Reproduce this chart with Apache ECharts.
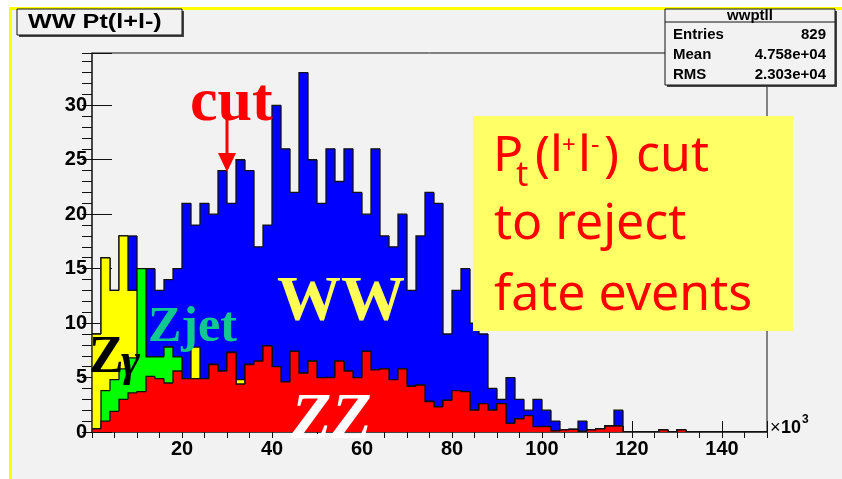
<!DOCTYPE html>
<html>
<head>
<meta charset="utf-8">
<script src="https://cdn.jsdelivr.net/npm/echarts@6/dist/echarts.min.js"></script>
<style>
html, body { margin: 0; padding: 0; background: #fff; }
#chart { width: 842px; height: 479px; }
</style>
</head>
<body>
<div id="chart"></div>
<script>
// Pt(l+l-) of the lepton pair, in units of 10^3, 75 bins of width 2 from 0 to 150.
const binWidth = 2;

// Per-process contents, drawn as a stack: ZZ at the bottom, then Zjet, Zgamma and WW.
const zz = [
  0.3, 1.0, 1.9, 3.0, 3.6, 3.7, 5.1, 4.9, 4.5, 5.6,
  4.9, 4.9, 4.9, 6.2, 5.6, 7.3, 4.4, 6.2, 6.5, 7.9,
  6.0, 4.6, 7.4, 5.4, 6.5, 5.0, 5.0, 6.5, 5.6, 5.0,
  7.4, 5.7, 5.8, 4.8, 5.8, 4.2, 4.3, 2.8, 2.3, 2.9,
  3.8, 3.7, 2.0, 2.6, 2.0, 2.6, 0.8, 1.2, 1.5, 0.5,
  0.5, 0.1, 0.2, 0.25, 0.05, 0.2, 0.3, 0.55, 0.55, 0,
  0, 0, 0, 0.2, 0, 0.2, 0, 0, 0, 0,
  0, 0, 0, 0, 0
];
const zjet = [
  0, 2.8, 2.9, 2.8, 3.2, 11.3, 1.8, 2.0, 3.3, 1.3,
  0, 0, 0, 0, 0, 0, 0, 0, 0, 0,
  0, 0, 0, 0, 0, 0, 0, 0, 0, 0,
  0, 0, 0, 0, 0, 0, 0, 0, 0, 0,
  0, 0, 0, 0, 0, 0, 0, 0, 0, 0,
  0, 0, 0, 0, 0, 0, 0, 0, 0, 0,
  0, 0, 0, 0, 0, 0, 0, 0, 0, 0,
  0, 0, 0, 0, 0
];
const zgamma = [
  8.7, 12.2, 8.2, 12.2, 6.2, 0, 0, 0, 0, 0,
  0, 2.9, 0, 0, 0, 0, 0.4, 0, 0, 0,
  0, 0, 0, 0, 0, 0, 0, 0, 0, 0,
  0, 0, 0, 0, 0, 0, 0, 0, 0, 0,
  0, 0, 0, 0, 0, 0, 0, 0, 0, 0,
  0, 0, 0, 0, 0, 0, 0, 0, 0, 0,
  0, 0, 0, 0, 0, 0, 0, 0, 0, 0,
  0, 0, 0, 0, 0
];
const ww = [
  0, 0, 0, 0, 5.0, 0, 8.1, 6.1, 6.2, 8.1,
  16.1, 11.2, 16.1, 13.8, 18.4, 13.7, 20.2, 17.8, 10.5, 11.1,
  24.0, 21.4, 14.6, 27.6, 18.5, 16.0, 21.0, 16.5, 20.4, 17.0,
  12.6, 20.3, 12.2, 12.2, 14.2, 8.8, 13.7, 19.2, 18.7, 6.1,
  9.2, 11.3, 8.0, 6.4, 2.0, 0.4, 4.2, 1.8, 0.5, 2.5,
  1.5, 0.9, 0, 0, 0.95, 0, 0, 0, 1.45, 0,
  0, 0, 0, 0, 0, 0, 0, 0, 0, 0,
  0, 0, 0, 0, 0
];

const xTickLabels = [20, 40, 60, 80, 100, 120, 140];
const yTickLabels = [0, 5, 10, 15, 20, 25, 30];

const statsTitle = 'wwptll';
const statsRows = [['Entries', '829'], ['Mean', '4.758e+04'], ['RMS', '2.303e+04']];

// cumulative tops of the stack
function addArrays(a, b) { return a.map((v, i) => v + b[i]); }
const topZZ = zz.slice();
const topZjet = addArrays(topZZ, zjet);
const topZgamma = addArrays(topZjet, zgamma);
const topWW = addArrays(topZgamma, ww);

// one filled step histogram with a black outline
function histSeries(name, tops, color) {
  const n = tops.length;
  const data = tops.map((v, i) => [i * binWidth, (i + 1) * binWidth, v, i ? tops[i - 1] : 0, i === n - 1 ? 1 : 0]);
  return {
    type: 'custom',
    name: name,
    data: data,
    clip: true,
    encode: { x: [0, 1], y: 2 },
    silent: true,
    renderItem: function (params, api) {
      const lo = api.value(0), hi = api.value(1), v = api.value(2), prev = api.value(3), last = api.value(4);
      const base = api.coord([lo, 0]);
      const topHi = api.coord([hi, v]);
      const pts = [api.coord([lo, prev]), api.coord([lo, v]), topHi];
      if (last) pts.push(api.coord([hi, 0]));
      return {
        type: 'group',
        children: [
          { type: 'rect', shape: { x: base[0], y: topHi[1], width: topHi[0] - base[0], height: base[1] - topHi[1] },
            style: { fill: color } },
          { type: 'polyline', shape: { points: pts }, style: { stroke: '#111', lineWidth: 1.3, fill: null } }
        ]
      };
    }
  };
}

const labelFont = 'Liberation Sans';
const chart = echarts.init(document.getElementById('chart'), null, { renderer: 'canvas' });

const txt = (x, y, text, font, fill, extra) => ({
  type: 'text', z: 100, style: Object.assign({ x: x, y: y, text: text, font: font, fill: fill, verticalAlign: 'middle' }, extra || {})
});

chart.setOption({
  animation: false,
  backgroundColor: '#f2f2f2',
  grid: { left: 92, right: 75, top: 53, bottom: 47, show: true, borderColor: '#111', borderWidth: 1, backgroundColor: 'transparent' },
  xAxis: [
    {
      type: 'value', min: 0, max: 150, interval: 20,
      axisLine: { show: true, lineStyle: { color: '#333', width: 1.5 } },
      axisTick: { show: true, inside: true, length: 11, lineStyle: { color: '#111' } },
      axisLabel: { margin: 7, color: '#000', fontFamily: labelFont, fontWeight: 'bold', fontSize: 20,
        formatter: v => (xTickLabels.indexOf(v) >= 0 ? String(v) : '') },
      splitLine: { show: false }
    },
    {
      type: 'value', min: 0, max: 150, interval: 5,
      axisLine: { show: false },
      axisTick: { show: true, inside: true, length: 6, lineStyle: { color: '#111' } },
      axisLabel: { show: false },
      splitLine: { show: false }
    }
  ],
  yAxis: [
    {
      type: 'value', min: 0, max: 34.8, interval: 5,
      axisLine: { show: true, lineStyle: { color: '#333', width: 1.5 } },
      axisTick: { show: true, inside: true, length: 20, lineStyle: { color: '#111' } },
      axisLabel: { margin: 5, color: '#000', fontFamily: labelFont, fontWeight: 'bold', fontSize: 20,
        formatter: v => (yTickLabels.indexOf(v) >= 0 ? String(v) : '') },
      splitLine: { show: false }
    },
    {
      type: 'value', min: 0, max: 34.8, interval: 1,
      axisLine: { show: false },
      axisTick: { show: true, inside: true, length: 10, lineStyle: { color: '#111' } },
      axisLabel: { show: false },
      splitLine: { show: false }
    }
  ],
  series: [
    histSeries('WW', topWW, '#0000ff'),
    histSeries('Zgamma', topZgamma, '#ffff00'),
    histSeries('Zjet', topZjet, '#00ff00'),
    histSeries('ZZ', topZZ, '#ff0000')
  ],
  graphic: [
    // page frame
    { type: 'rect', z: 90, shape: { x: 0, y: 0, width: 842, height: 7 }, style: { fill: '#fff' } },
    { type: 'rect', z: 90, shape: { x: 0, y: 0, width: 9, height: 479 }, style: { fill: '#fff' } },
    { type: 'rect', z: 91, shape: { x: 9, y: 7, width: 833, height: 3 }, style: { fill: '#ffff00' } },
    { type: 'rect', z: 91, shape: { x: 9, y: 7, width: 3, height: 472 }, style: { fill: '#ffff00' } },

    // title box
    { type: 'rect', z: 95, shape: { x: 19, y: 11, width: 165, height: 26 }, style: { fill: '#444' } },
    { type: 'rect', z: 96, shape: { x: 17, y: 9, width: 165, height: 26 }, style: { fill: '#f2f2f2', stroke: '#111', lineWidth: 1 } },
    { type: 'text', z: 100, x: 28, y: 22, scaleX: 1.2,
      style: { x: 0, y: 0, text: 'WW Pt(l+l-)', font: 'bold 21px "Liberation Sans"', fill: '#000', verticalAlign: 'middle' } },

    // statistics box
    { type: 'rect', z: 95, shape: { x: 667, y: 11, width: 170, height: 76 }, style: { fill: '#444' } },
    { type: 'rect', z: 96, shape: { x: 665, y: 9, width: 170, height: 76 }, style: { fill: '#f2f2f2', stroke: '#111', lineWidth: 1 } },
    { type: 'line', z: 97, shape: { x1: 665, y1: 22, x2: 835, y2: 22 }, style: { stroke: '#111', lineWidth: 1 } },
    txt(750, 15.5, statsTitle, 'bold 15px "Liberation Sans"', '#000', { align: 'center' }),
    ...statsRows.map((r, i) => txt(673, 35 + 20 * i, r[0], 'bold 15px "Liberation Sans"', '#000')),
    ...statsRows.map((r, i) => txt(826, 35 + 20 * i, r[1], 'bold 15px "Liberation Sans"', '#000', { align: 'right' })),

    // axis multiplier
    txt(770, 428, '\u00d7', '18px "Liberation Sans"', '#000'),
    txt(781, 428, '10', 'bold 18px "Liberation Sans"', '#000'),
    txt(802, 420, '3', 'bold 12px "Liberation Sans"', '#000'),

    // process labels
    txt(190, 104, 'cut', 'bold 62px "Liberation Serif"', '#ff0000'),
    { type: 'line', z: 100, shape: { x1: 227, y1: 117, x2: 227, y2: 156 }, style: { stroke: '#ff0000', lineWidth: 3 } },
    { type: 'polygon', z: 100, shape: { points: [[218, 153], [236, 153], [227, 172]] }, style: { fill: '#ff0000' } },
    txt(277, 303, 'WW', 'bold 64px "Liberation Serif"', '#ffff55'),
    txt(148, 328, 'Zjet', 'bold 50px "Liberation Serif"', '#10c890'),
    txt(89, 359, 'Z', 'bold 52px "Liberation Serif"', '#000'),
    txt(121, 363, '\u03b3', 'bold italic 46px "Liberation Serif"', '#000'),
    txt(291, 421, 'ZZ', 'bold italic 66px "Liberation Serif"', '#fff'),

    // note box
    { type: 'rect', z: 98, shape: { x: 473, y: 116, width: 320, height: 215 }, style: { fill: '#ffff66' } },
    txt(493, 157, 'P', '50px "Noto Sans"', '#ff0000'),
    txt(516, 176, 't', '34px "Noto Sans"', '#ff0000'),
    txt(535, 157, '(l', '50px "Noto Sans"', '#ff0000'),
    txt(562, 146, '+', '24px "Noto Sans"', '#ff0000'),
    txt(578, 157, 'l', '50px "Noto Sans"', '#ff0000'),
    txt(591, 146, '-', '26px "Noto Sans"', '#ff0000'),
    txt(604, 157, ')', '50px "Noto Sans"', '#ff0000'),
    txt(636, 157, 'cut', '50px "Noto Sans"', '#ff0000'),
    txt(494, 225, 'to reject', '50px "Noto Sans"', '#ff0000'),
    txt(494, 296, 'fate events', '50px "Noto Sans"', '#ff0000')
  ]
});
</script>
</body>
</html>
